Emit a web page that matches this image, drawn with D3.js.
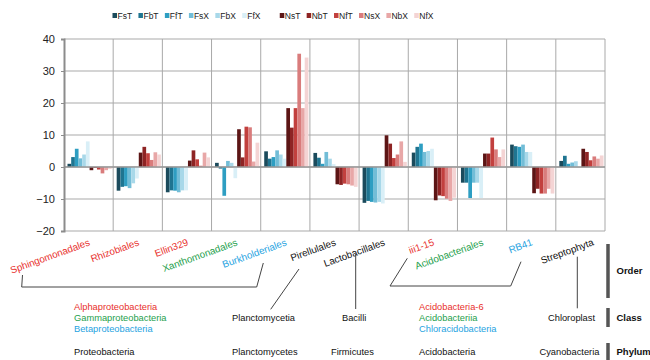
<!DOCTYPE html>
<html>
<head>
<meta charset="utf-8">
<script src="https://cdn.jsdelivr.net/npm/d3@7"></script>
<style>
  body { margin: 0; background: #fff; }
  svg { font-family: "Liberation Sans", Arial, sans-serif; }
</style>
</head>
<body>
<div id="chart"></div>
<script>
// orders on the x axis
var orders = ["Sphingomonadales", "Rhizobiales", "Ellin329", "Xanthomonadales", "Burkholderiales",
  "Pirellulales", "Lactobacillales", "iii1-15", "Acidobacteriales", "RB41", "Streptophyta"];
var orderColors = ["#e8302c", "#e8302c", "#e8302c", "#1ea04c", "#1fa3df",
  "#111", "#111", "#e8302c", "#1ea04c", "#1fa3df", "#111"];

var seriesNames = ["FsT", "FbT", "FfT", "FsX", "FbX", "FfX", "NsT", "NbT", "NfT", "NsX", "NbX", "NfX"];
var seriesColors = ["#1b4b5c", "#1f7591", "#2e9ec2", "#72bdd7", "#a8d8e9", "#d9eff7",
  "#5c1515", "#8e2424", "#c2403e", "#d97c7c", "#e8a7a7", "#f4d4d4"];

// values, one array per series (same order as orders)
var FsT = [1.0, -7.4, -7.9, 1.3, 4.9, 4.4, -11.2, 4.5, -4.9, 7.0, 1.9];
var FbT = [3.1, -6.2, -7.3, -0.5, 2.6, 2.9, -10.6, 6.3, -4.9, 6.5, 3.5];
var FfT = [5.7, -6.0, -7.4, -9.0, 3.1, 1.0, -10.9, 7.3, -9.7, 6.3, 1.0];
var FsX = [2.7, -6.6, -7.9, 1.9, 5.2, 4.7, -11.1, 4.7, -4.9, 7.0, 1.4];
var FbX = [3.9, -5.1, -7.3, 1.3, 3.9, 2.6, -10.9, 5.0, -4.9, 4.7, 1.8];
var FfX = [8.0, -3.6, -7.3, -3.5, 2.6, 0.9, -11.4, 5.7, -9.7, 4.7, 0.3];
var NsT = [-1.0, 4.5, 2.0, 11.8, 18.4, -5.4, 9.9, -10.4, 4.2, -8.2, 5.7];
var NbT = [-0.3, 6.3, 5.2, 3.0, 12.3, -5.6, 7.3, -8.9, 4.2, -6.8, 4.7];
var NfT = [-0.8, 4.3, 2.4, 12.6, 18.4, -5.2, 2.8, -9.1, 9.2, -8.3, 2.1];
var NsX = [-2.0, 2.2, 0.4, 12.4, 35.4, -5.4, 3.9, -9.9, 5.5, -8.3, 3.3];
var NbX = [-1.0, 4.6, 4.5, 1.7, 18.4, -5.8, 8.0, -10.6, 3.1, -6.8, 2.6];
var NfX = [-0.6, 3.9, 3.0, 7.6, 34.2, -6.2, 1.6, -9.6, 5.5, -8.3, 3.6];
var seriesValues = [FsT, FbT, FfT, FsX, FbX, FfX, NsT, NbT, NfT, NsX, NbX, NfX];

var yTicks = [-20, -10, 0, 10, 20, 30, 40];

var W = 650, H = 360;
var margin = {top: 39, right: 45, bottom: 129, left: 64};
var width = W - margin.left - margin.right,
    height = H - margin.top - margin.bottom;

var svg = d3.select("#chart").append("svg")
  .attr("width", W).attr("height", H);

var g = svg.append("g")
  .attr("transform", "translate(" + margin.left + "," + margin.top + ")");

var x = d3.scaleBand().domain(orders).range([0, width]).padding(0);
var xs = d3.scaleBand().domain(seriesNames)
  .range([3.5, x.bandwidth() - 1.5]).padding(0);
var y = d3.scaleLinear().domain([-20, 40]).range([height, 0]);

// grid
g.selectAll(".hgrid").data(yTicks).enter().append("line")
  .attr("x1", 0).attr("x2", width)
  .attr("y1", d => y(d)).attr("y2", d => y(d))
  .attr("stroke", "#a9a9a9").attr("stroke-width", 1);
g.selectAll(".vgrid").data(orders).enter().append("line")
  .attr("x1", d => x(d) + x.step()).attr("x2", d => x(d) + x.step())
  .attr("y1", 0).attr("y2", height)
  .attr("stroke", "#a9a9a9").attr("stroke-width", 1);

// bars
var cells = [];
orders.forEach(function (o, i) {
  seriesNames.forEach(function (s, j) {
    cells.push({order: o, series: s, value: seriesValues[j][i], color: seriesColors[j]});
  });
});
g.selectAll(".bar").data(cells).enter().append("rect")
  .attr("x", d => x(d.order) + xs(d.series))
  .attr("width", xs.bandwidth())
  .attr("y", d => y(Math.max(0, d.value)))
  .attr("height", d => Math.abs(y(d.value) - y(0)))
  .attr("fill", d => d.color);

// zero line
g.append("line")
  .attr("x1", 0).attr("x2", width).attr("y1", y(0)).attr("y2", y(0))
  .attr("stroke", "#999").attr("stroke-width", 1.6);

// y axis
var yAxis = g.append("g").call(d3.axisLeft(y).tickValues(yTicks).tickSize(3).tickPadding(6));
yAxis.select(".domain").attr("stroke", "#8c8c8c").attr("stroke-width", 2);
yAxis.selectAll(".tick line").attr("stroke", "#8c8c8c");
yAxis.selectAll(".tick text").attr("font-size", 11).attr("fill", "#222")
  .attr("font-family", "Liberation Sans, Arial, sans-serif");

// order labels, rotated
var labelShift = {"Streptophyta": 12};
g.selectAll(".olab").data(orders).enter().append("text")
  .attr("transform", d => "translate(" + (x(d) + x.bandwidth() / 2 + 2 + (labelShift[d] || 0)) + "," + (height + 14) + ") rotate(-20)")
  .attr("text-anchor", "end")
  .attr("font-size", 9.8)
  .attr("fill", (d, i) => orderColors[i])
  .text(d => d);

// legend
var leg = svg.append("g").attr("transform", "translate(112.5,16)");
var lx = 0;
seriesNames.forEach(function (s, j) {
  var it = leg.append("g").attr("transform", "translate(" + lx + ",0)");
  it.append("rect").attr("x", 0).attr("y", -3).attr("width", 4.5).attr("height", 5)
    .attr("fill", seriesColors[j]);
  var t = it.append("text").attr("x", 5).attr("y", 3).attr("font-size", 8.5)
    .attr("fill", "#222").text(s);
  lx += 5 + t.node().getComputedTextLength() + 6.3 + (j === 5 ? 13 : 0);
});

// taxonomy annotations below the chart
var lines = [
  [[22.5, 275], [21.7, 287], [256.7, 287], [263.3, 263]],
  [[299, 269], [270.7, 309.3]],
  [[355.7, 254], [355.7, 309]],
  [[407.3, 258.3], [390, 286], [510.7, 286], [521, 261.7]],
  [[577.3, 256.7], [577.3, 308.3]]
];
lines.forEach(function (pts) {
  svg.append("path").attr("d", d3.line()(pts))
    .attr("fill", "none").attr("stroke", "#444").attr("stroke-width", 1);
});

var notes = [
  {t: "Alphaproteobacteria", x: 74, y: 307, c: "#e8302c"},
  {t: "Gammaproteobacteria", x: 74, y: 317.5, c: "#1ea04c"},
  {t: "Betaproteobacteria", x: 74, y: 328.5, c: "#1fa3df"},
  {t: "Proteobacteria", x: 74, y: 351.5, c: "#111"},
  {t: "Planctomycetia", x: 232, y: 317.5, c: "#111"},
  {t: "Planctomycetes", x: 232, y: 351.5, c: "#111"},
  {t: "Bacilli", x: 342, y: 317.5, c: "#111"},
  {t: "Firmicutes", x: 331, y: 351.5, c: "#111"},
  {t: "Acidobacteria-6", x: 419, y: 307, c: "#e8302c"},
  {t: "Acidobacteriia", x: 419, y: 317.5, c: "#1ea04c"},
  {t: "Chloracidobacteria", x: 419, y: 328.5, c: "#1fa3df"},
  {t: "Acidobacteria", x: 419, y: 351.5, c: "#111"},
  {t: "Chloroplast", x: 548, y: 317.5, c: "#111"},
  {t: "Cyanobacteria", x: 539.5, y: 351.5, c: "#111"}
];
svg.selectAll(".note").data(notes).enter().append("text")
  .attr("x", d => d.x).attr("y", d => d.y).attr("dy", "0.35em")
  .attr("font-size", 9.3).attr("fill", d => d.c).text(d => d.t);

var ranks = [
  {t: "Order", y0: 244, y1: 298},
  {t: "Class", y0: 308, y1: 327},
  {t: "Phylum", y0: 343, y1: 362}
];
ranks.forEach(function (r) {
  svg.append("line").attr("x1", 608).attr("x2", 608).attr("y1", r.y0).attr("y2", r.y1)
    .attr("stroke", "#555").attr("stroke-width", 3.5);
  svg.append("text").attr("x", 616.5).attr("y", r.t === "Phylum" ? 351.5 : (r.y0 + r.y1) / 2)
    .attr("dy", "0.35em").attr("font-size", 9.5).attr("font-weight", "bold")
    .attr("fill", "#111").text(r.t);
});
</script>
</body>
</html>
